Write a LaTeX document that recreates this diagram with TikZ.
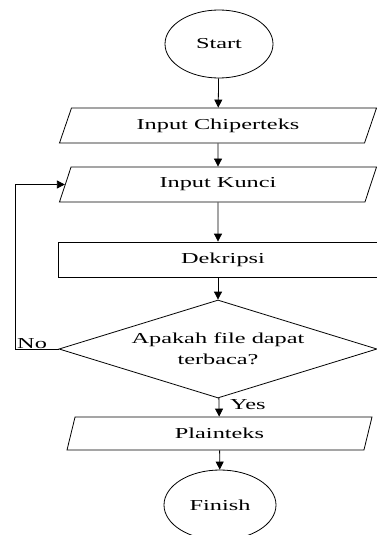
\documentclass[tikz,border=0pt]{standalone}
\usepackage{fontspec}
\setmainfont{Liberation Serif}[FakeStretch=1.6]
\usetikzlibrary{shapes.geometric,arrows.meta}
\begin{document}
\begin{tikzpicture}[x=1pt, y=1pt]
    \tikzset{
      base/.style={draw=black, line width=0.8pt, inner sep=0pt, font=\fontsize{15.2}{21}\selectfont},
      term/.style={base, ellipse, minimum width=108pt, minimum height=68pt},
      io/.style={base, trapezium, trapezium stretches body, minimum height=35pt},
      proc/.style={base, rectangle, minimum width=330pt, minimum height=35pt},
      cond/.style={base, diamond, aspect=3.2, minimum width=318pt, minimum height=98pt, align=center},
      flow/.style={line width=0.8pt, -{Triangle[width=8pt,length=8pt]}},
      lbl/.style={inner sep=0pt, font=\fontsize{15.2}{21}\selectfont},
    }
    \useasboundingbox (0,0) rectangle (376,-535);
    % ===== Nodes =====
    \node[term] (start) at (219,-44) {Start};
    \node[io, trapezium left angle=49, trapezium right angle=131, minimum width=317pt] (chiper) at (218,-125.5) {Input Chiperteks};
    \node[io, trapezium left angle=49, trapezium right angle=131, minimum width=317pt] (kunci) at (218,-184.5) {Input Kunci};
    \node[proc] (dekripsi) at (223,-259.5) {Dekripsi};
    \node[cond] (cek) at (218,-349) {Apakah file dapat\\terbaca?};
    \node[io, trapezium left angle=53, trapezium right angle=127, minimum width=305pt, minimum height=33pt] (plain) at (219.5,-433.5) {Plainteks};
    \node[term, minimum width=112pt, minimum height=70pt] (finish) at (220,-505) {Finish};
    % ===== Connectors =====
    \draw[flow] (start) -- (chiper);
    \draw[flow] (chiper) -- (kunci);
    \draw[flow] (kunci) -- (kunci |- dekripsi.north);
    \draw[flow] (dekripsi.south -| cek) -- (cek);
    \draw[flow] (cek) -- (plain);
    \draw[flow] (plain) -- (finish);
    \draw[flow] (cek.west) -- ++(-43,0) |- (kunci.left side);
    % ===== Labels =====
    \node[lbl, anchor=south west] (no) at (17,-349) {No};
    \node[lbl, anchor=west] (yes) at (230,-405) {Yes};
\end{tikzpicture}
\end{document}
